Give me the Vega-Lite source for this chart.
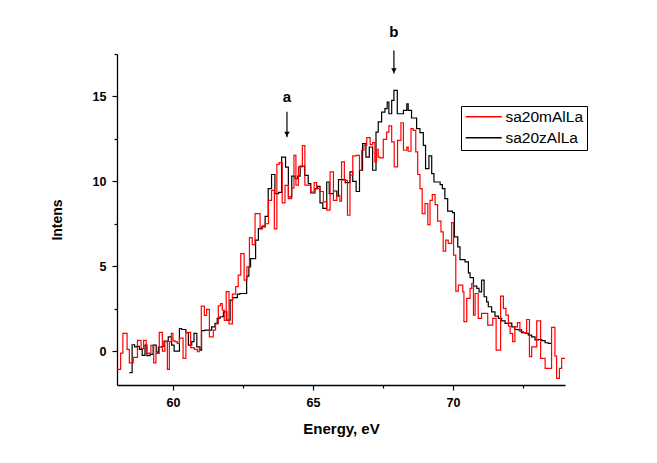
{
  "$schema": "https://vega.github.io/schema/vega-lite/v6.json",
  "description": "Step spectra of two samples with peak markers a and b.",
  "width": 448,
  "height": 331,
  "autosize": "none",
  "padding": {"left": 117, "top": 54, "right": 92, "bottom": 78},
  "datasets": {
    "spectra": [
      {"energy": 58.0, "intensity": -1.08, "sample": "sa20mAlLa"},
      {"energy": 58.13, "intensity": -0.12, "sample": "sa20mAlLa"},
      {"energy": 58.21, "intensity": 1.04, "sample": "sa20mAlLa"},
      {"energy": 58.36, "intensity": 0.1, "sample": "sa20mAlLa"},
      {"energy": 58.44, "intensity": -0.7, "sample": "sa20mAlLa"},
      {"energy": 58.58, "intensity": -0.37, "sample": "sa20mAlLa"},
      {"energy": 58.73, "intensity": 0.63, "sample": "sa20mAlLa"},
      {"energy": 58.86, "intensity": 0.14, "sample": "sa20mAlLa"},
      {"energy": 58.95, "intensity": 0.63, "sample": "sa20mAlLa"},
      {"energy": 59.04, "intensity": -0.14, "sample": "sa20mAlLa"},
      {"energy": 59.14, "intensity": -0.12, "sample": "sa20mAlLa"},
      {"energy": 59.21, "intensity": 0.33, "sample": "sa20mAlLa"},
      {"energy": 59.31, "intensity": -0.7, "sample": "sa20mAlLa"},
      {"energy": 59.39, "intensity": -0.14, "sample": "sa20mAlLa"},
      {"energy": 59.51, "intensity": 1.1, "sample": "sa20mAlLa"},
      {"energy": 59.62, "intensity": 0.0, "sample": "sa20mAlLa"},
      {"energy": 59.71, "intensity": 0.55, "sample": "sa20mAlLa"},
      {"energy": 59.8, "intensity": -1.08, "sample": "sa20mAlLa"},
      {"energy": 59.87, "intensity": 0.55, "sample": "sa20mAlLa"},
      {"energy": 59.94, "intensity": 1.04, "sample": "sa20mAlLa"},
      {"energy": 60.0, "intensity": 0.6, "sample": "sa20mAlLa"},
      {"energy": 60.07, "intensity": 0.55, "sample": "sa20mAlLa"},
      {"energy": 60.15, "intensity": 0.45, "sample": "sa20mAlLa"},
      {"energy": 60.23, "intensity": 0.76, "sample": "sa20mAlLa"},
      {"energy": 60.36, "intensity": -0.43, "sample": "sa20mAlLa"},
      {"energy": 60.46, "intensity": 1.1, "sample": "sa20mAlLa"},
      {"energy": 60.63, "intensity": 0.2, "sample": "sa20mAlLa"},
      {"energy": 60.76, "intensity": 0.1, "sample": "sa20mAlLa"},
      {"energy": 60.87, "intensity": -0.04, "sample": "sa20mAlLa"},
      {"energy": 60.94, "intensity": 0.2, "sample": "sa20mAlLa"},
      {"energy": 61.01, "intensity": 2.65, "sample": "sa20mAlLa"},
      {"energy": 61.12, "intensity": 2.1, "sample": "sa20mAlLa"},
      {"energy": 61.2, "intensity": 2.45, "sample": "sa20mAlLa"},
      {"energy": 61.3, "intensity": 0.84, "sample": "sa20mAlLa"},
      {"energy": 61.44, "intensity": 1.23, "sample": "sa20mAlLa"},
      {"energy": 61.52, "intensity": 1.6, "sample": "sa20mAlLa"},
      {"energy": 61.62, "intensity": 2.67, "sample": "sa20mAlLa"},
      {"energy": 61.7, "intensity": 2.8, "sample": "sa20mAlLa"},
      {"energy": 61.76, "intensity": 2.41, "sample": "sa20mAlLa"},
      {"energy": 61.83, "intensity": 1.8, "sample": "sa20mAlLa"},
      {"energy": 61.9, "intensity": 3.5, "sample": "sa20mAlLa"},
      {"energy": 62.0, "intensity": 1.6, "sample": "sa20mAlLa"},
      {"energy": 62.12, "intensity": 3.35, "sample": "sa20mAlLa"},
      {"energy": 62.24, "intensity": 3.8, "sample": "sa20mAlLa"},
      {"energy": 62.33, "intensity": 4.47, "sample": "sa20mAlLa"},
      {"energy": 62.42, "intensity": 5.74, "sample": "sa20mAlLa"},
      {"energy": 62.54, "intensity": 4.18, "sample": "sa20mAlLa"},
      {"energy": 62.64, "intensity": 4.96, "sample": "sa20mAlLa"},
      {"energy": 62.73, "intensity": 6.68, "sample": "sa20mAlLa"},
      {"energy": 62.83, "intensity": 6.27, "sample": "sa20mAlLa"},
      {"energy": 62.93, "intensity": 8.1, "sample": "sa20mAlLa"},
      {"energy": 63.11, "intensity": 7.2, "sample": "sa20mAlLa"},
      {"energy": 63.19, "intensity": 7.37, "sample": "sa20mAlLa"},
      {"energy": 63.29, "intensity": 7.5, "sample": "sa20mAlLa"},
      {"energy": 63.41, "intensity": 8.88, "sample": "sa20mAlLa"},
      {"energy": 63.52, "intensity": 9.47, "sample": "sa20mAlLa"},
      {"energy": 63.62, "intensity": 7.2, "sample": "sa20mAlLa"},
      {"energy": 63.71, "intensity": 11.0, "sample": "sa20mAlLa"},
      {"energy": 63.79, "intensity": 11.1, "sample": "sa20mAlLa"},
      {"energy": 63.9, "intensity": 8.73, "sample": "sa20mAlLa"},
      {"energy": 64.0, "intensity": 9.76, "sample": "sa20mAlLa"},
      {"energy": 64.12, "intensity": 8.98, "sample": "sa20mAlLa"},
      {"energy": 64.24, "intensity": 9.6, "sample": "sa20mAlLa"},
      {"energy": 64.32, "intensity": 11.53, "sample": "sa20mAlLa"},
      {"energy": 64.39, "intensity": 9.77, "sample": "sa20mAlLa"},
      {"energy": 64.48, "intensity": 10.85, "sample": "sa20mAlLa"},
      {"energy": 64.62, "intensity": 12.1, "sample": "sa20mAlLa"},
      {"energy": 64.71, "intensity": 9.77, "sample": "sa20mAlLa"},
      {"energy": 64.83, "intensity": 9.77, "sample": "sa20mAlLa"},
      {"energy": 64.92, "intensity": 9.37, "sample": "sa20mAlLa"},
      {"energy": 65.04, "intensity": 9.92, "sample": "sa20mAlLa"},
      {"energy": 65.13, "intensity": 9.57, "sample": "sa20mAlLa"},
      {"energy": 65.25, "intensity": 9.4, "sample": "sa20mAlLa"},
      {"energy": 65.37, "intensity": 8.79, "sample": "sa20mAlLa"},
      {"energy": 65.49, "intensity": 8.3, "sample": "sa20mAlLa"},
      {"energy": 65.61, "intensity": 10.55, "sample": "sa20mAlLa"},
      {"energy": 65.73, "intensity": 8.88, "sample": "sa20mAlLa"},
      {"energy": 65.85, "intensity": 9.18, "sample": "sa20mAlLa"},
      {"energy": 65.96, "intensity": 8.83, "sample": "sa20mAlLa"},
      {"energy": 66.02, "intensity": 11.14, "sample": "sa20mAlLa"},
      {"energy": 66.12, "intensity": 10.06, "sample": "sa20mAlLa"},
      {"energy": 66.23, "intensity": 8.0, "sample": "sa20mAlLa"},
      {"energy": 66.32, "intensity": 10.36, "sample": "sa20mAlLa"},
      {"energy": 66.42, "intensity": 11.5, "sample": "sa20mAlLa"},
      {"energy": 66.54, "intensity": 11.53, "sample": "sa20mAlLa"},
      {"energy": 66.66, "intensity": 10.65, "sample": "sa20mAlLa"},
      {"energy": 66.74, "intensity": 11.83, "sample": "sa20mAlLa"},
      {"energy": 66.82, "intensity": 12.12, "sample": "sa20mAlLa"},
      {"energy": 66.92, "intensity": 12.57, "sample": "sa20mAlLa"},
      {"energy": 67.04, "intensity": 12.16, "sample": "sa20mAlLa"},
      {"energy": 67.13, "intensity": 12.28, "sample": "sa20mAlLa"},
      {"energy": 67.21, "intensity": 11.14, "sample": "sa20mAlLa"},
      {"energy": 67.27, "intensity": 11.89, "sample": "sa20mAlLa"},
      {"energy": 67.33, "intensity": 11.43, "sample": "sa20mAlLa"},
      {"energy": 67.39, "intensity": 11.38, "sample": "sa20mAlLa"},
      {"energy": 67.51, "intensity": 12.47, "sample": "sa20mAlLa"},
      {"energy": 67.63, "intensity": 12.9, "sample": "sa20mAlLa"},
      {"energy": 67.71, "intensity": 13.26, "sample": "sa20mAlLa"},
      {"energy": 67.81, "intensity": 12.32, "sample": "sa20mAlLa"},
      {"energy": 67.9, "intensity": 10.85, "sample": "sa20mAlLa"},
      {"energy": 68.02, "intensity": 12.41, "sample": "sa20mAlLa"},
      {"energy": 68.14, "intensity": 13.45, "sample": "sa20mAlLa"},
      {"energy": 68.23, "intensity": 11.83, "sample": "sa20mAlLa"},
      {"energy": 68.35, "intensity": 12.02, "sample": "sa20mAlLa"},
      {"energy": 68.4, "intensity": 11.77, "sample": "sa20mAlLa"},
      {"energy": 68.5, "intensity": 13.1, "sample": "sa20mAlLa"},
      {"energy": 68.58, "intensity": 13.0, "sample": "sa20mAlLa"},
      {"energy": 68.67, "intensity": 11.73, "sample": "sa20mAlLa"},
      {"energy": 68.74, "intensity": 10.4, "sample": "sa20mAlLa"},
      {"energy": 68.82, "intensity": 9.57, "sample": "sa20mAlLa"},
      {"energy": 68.9, "intensity": 8.1, "sample": "sa20mAlLa"},
      {"energy": 69.0, "intensity": 8.69, "sample": "sa20mAlLa"},
      {"energy": 69.1, "intensity": 7.45, "sample": "sa20mAlLa"},
      {"energy": 69.18, "intensity": 8.88, "sample": "sa20mAlLa"},
      {"energy": 69.26, "intensity": 9.22, "sample": "sa20mAlLa"},
      {"energy": 69.36, "intensity": 8.63, "sample": "sa20mAlLa"},
      {"energy": 69.45, "intensity": 7.65, "sample": "sa20mAlLa"},
      {"energy": 69.57, "intensity": 7.02, "sample": "sa20mAlLa"},
      {"energy": 69.65, "intensity": 5.89, "sample": "sa20mAlLa"},
      {"energy": 69.74, "intensity": 6.53, "sample": "sa20mAlLa"},
      {"energy": 69.83, "intensity": 6.34, "sample": "sa20mAlLa"},
      {"energy": 69.95, "intensity": 7.57, "sample": "sa20mAlLa"},
      {"energy": 70.02, "intensity": 5.65, "sample": "sa20mAlLa"},
      {"energy": 70.1, "intensity": 3.53, "sample": "sa20mAlLa"},
      {"energy": 70.19, "intensity": 3.89, "sample": "sa20mAlLa"},
      {"energy": 70.25, "intensity": 3.88, "sample": "sa20mAlLa"},
      {"energy": 70.35, "intensity": 3.49, "sample": "sa20mAlLa"},
      {"energy": 70.39, "intensity": 1.73, "sample": "sa20mAlLa"},
      {"energy": 70.49, "intensity": 3.1, "sample": "sa20mAlLa"},
      {"energy": 70.61, "intensity": 3.69, "sample": "sa20mAlLa"},
      {"energy": 70.67, "intensity": 3.98, "sample": "sa20mAlLa"},
      {"energy": 70.73, "intensity": 2.12, "sample": "sa20mAlLa"},
      {"energy": 70.79, "intensity": 3.39, "sample": "sa20mAlLa"},
      {"energy": 70.9, "intensity": 1.92, "sample": "sa20mAlLa"},
      {"energy": 71.02, "intensity": 2.22, "sample": "sa20mAlLa"},
      {"energy": 71.14, "intensity": 2.22, "sample": "sa20mAlLa"},
      {"energy": 71.24, "intensity": 1.53, "sample": "sa20mAlLa"},
      {"energy": 71.42, "intensity": 1.92, "sample": "sa20mAlLa"},
      {"energy": 71.54, "intensity": 0.06, "sample": "sa20mAlLa"},
      {"energy": 71.7, "intensity": 3.24, "sample": "sa20mAlLa"},
      {"energy": 71.8, "intensity": 2.51, "sample": "sa20mAlLa"},
      {"energy": 71.89, "intensity": 2.12, "sample": "sa20mAlLa"},
      {"energy": 71.98, "intensity": 1.47, "sample": "sa20mAlLa"},
      {"energy": 72.04, "intensity": 1.04, "sample": "sa20mAlLa"},
      {"energy": 72.13, "intensity": 0.55, "sample": "sa20mAlLa"},
      {"energy": 72.21, "intensity": 1.43, "sample": "sa20mAlLa"},
      {"energy": 72.3, "intensity": 1.67, "sample": "sa20mAlLa"},
      {"energy": 72.39, "intensity": 1.14, "sample": "sa20mAlLa"},
      {"energy": 72.51, "intensity": 1.08, "sample": "sa20mAlLa"},
      {"energy": 72.63, "intensity": 1.86, "sample": "sa20mAlLa"},
      {"energy": 72.73, "intensity": -0.33, "sample": "sa20mAlLa"},
      {"energy": 72.81, "intensity": 0.25, "sample": "sa20mAlLa"},
      {"energy": 72.99, "intensity": 1.78, "sample": "sa20mAlLa"},
      {"energy": 73.13, "intensity": -0.43, "sample": "sa20mAlLa"},
      {"energy": 73.29, "intensity": -1.02, "sample": "sa20mAlLa"},
      {"energy": 73.52, "intensity": 1.39, "sample": "sa20mAlLa"},
      {"energy": 73.64, "intensity": -0.3, "sample": "sa20mAlLa"},
      {"energy": 73.7, "intensity": -1.61, "sample": "sa20mAlLa"},
      {"energy": 73.8, "intensity": -1.02, "sample": "sa20mAlLa"},
      {"energy": 73.88, "intensity": -0.43, "sample": "sa20mAlLa"},
      {"energy": 74.0, "intensity": -0.43, "sample": "sa20mAlLa"},
      {"energy": 58.44, "intensity": -1.27, "sample": "sa20zAlLa"},
      {"energy": 58.54, "intensity": 0.37, "sample": "sa20zAlLa"},
      {"energy": 58.63, "intensity": 0.25, "sample": "sa20zAlLa"},
      {"energy": 58.71, "intensity": 0.28, "sample": "sa20zAlLa"},
      {"energy": 58.8, "intensity": 0.1, "sample": "sa20zAlLa"},
      {"energy": 58.9, "intensity": -0.25, "sample": "sa20zAlLa"},
      {"energy": 59.0, "intensity": 0.35, "sample": "sa20zAlLa"},
      {"energy": 59.07, "intensity": -0.27, "sample": "sa20zAlLa"},
      {"energy": 59.18, "intensity": -0.2, "sample": "sa20zAlLa"},
      {"energy": 59.29, "intensity": 0.35, "sample": "sa20zAlLa"},
      {"energy": 59.4, "intensity": -0.06, "sample": "sa20zAlLa"},
      {"energy": 59.48, "intensity": 0.24, "sample": "sa20zAlLa"},
      {"energy": 59.62, "intensity": 0.27, "sample": "sa20zAlLa"},
      {"energy": 59.68, "intensity": 0.59, "sample": "sa20zAlLa"},
      {"energy": 59.83, "intensity": 0.84, "sample": "sa20zAlLa"},
      {"energy": 59.95, "intensity": 0.35, "sample": "sa20zAlLa"},
      {"energy": 60.04, "intensity": 0.0, "sample": "sa20zAlLa"},
      {"energy": 60.23, "intensity": 1.33, "sample": "sa20zAlLa"},
      {"energy": 60.31, "intensity": 1.27, "sample": "sa20zAlLa"},
      {"energy": 60.46, "intensity": 1.08, "sample": "sa20zAlLa"},
      {"energy": 60.55, "intensity": 0.35, "sample": "sa20zAlLa"},
      {"energy": 60.67, "intensity": 0.55, "sample": "sa20zAlLa"},
      {"energy": 60.75, "intensity": 1.04, "sample": "sa20zAlLa"},
      {"energy": 60.85, "intensity": 0.25, "sample": "sa20zAlLa"},
      {"energy": 60.96, "intensity": 0.06, "sample": "sa20zAlLa"},
      {"energy": 61.02, "intensity": 1.2, "sample": "sa20zAlLa"},
      {"energy": 61.14, "intensity": 1.23, "sample": "sa20zAlLa"},
      {"energy": 61.38, "intensity": 1.43, "sample": "sa20zAlLa"},
      {"energy": 61.5, "intensity": 1.63, "sample": "sa20zAlLa"},
      {"energy": 61.58, "intensity": 1.92, "sample": "sa20zAlLa"},
      {"energy": 61.68, "intensity": 2.02, "sample": "sa20zAlLa"},
      {"energy": 61.8, "intensity": 2.31, "sample": "sa20zAlLa"},
      {"energy": 61.92, "intensity": 1.82, "sample": "sa20zAlLa"},
      {"energy": 62.04, "intensity": 3.0, "sample": "sa20zAlLa"},
      {"energy": 62.13, "intensity": 3.15, "sample": "sa20zAlLa"},
      {"energy": 62.3, "intensity": 3.35, "sample": "sa20zAlLa"},
      {"energy": 62.39, "intensity": 3.39, "sample": "sa20zAlLa"},
      {"energy": 62.63, "intensity": 4.41, "sample": "sa20zAlLa"},
      {"energy": 62.71, "intensity": 4.96, "sample": "sa20zAlLa"},
      {"energy": 62.77, "intensity": 5.45, "sample": "sa20zAlLa"},
      {"energy": 62.95, "intensity": 6.53, "sample": "sa20zAlLa"},
      {"energy": 63.05, "intensity": 7.21, "sample": "sa20zAlLa"},
      {"energy": 63.17, "intensity": 7.31, "sample": "sa20zAlLa"},
      {"energy": 63.29, "intensity": 7.94, "sample": "sa20zAlLa"},
      {"energy": 63.4, "intensity": 9.57, "sample": "sa20zAlLa"},
      {"energy": 63.52, "intensity": 10.4, "sample": "sa20zAlLa"},
      {"energy": 63.64, "intensity": 9.27, "sample": "sa20zAlLa"},
      {"energy": 63.77, "intensity": 9.35, "sample": "sa20zAlLa"},
      {"energy": 63.88, "intensity": 11.43, "sample": "sa20zAlLa"},
      {"energy": 64.02, "intensity": 10.84, "sample": "sa20zAlLa"},
      {"energy": 64.12, "intensity": 9.08, "sample": "sa20zAlLa"},
      {"energy": 64.24, "intensity": 10.3, "sample": "sa20zAlLa"},
      {"energy": 64.36, "intensity": 10.15, "sample": "sa20zAlLa"},
      {"energy": 64.45, "intensity": 10.3, "sample": "sa20zAlLa"},
      {"energy": 64.54, "intensity": 10.9, "sample": "sa20zAlLa"},
      {"energy": 64.7, "intensity": 10.35, "sample": "sa20zAlLa"},
      {"energy": 64.83, "intensity": 9.86, "sample": "sa20zAlLa"},
      {"energy": 64.92, "intensity": 9.31, "sample": "sa20zAlLa"},
      {"energy": 65.07, "intensity": 9.57, "sample": "sa20zAlLa"},
      {"energy": 65.16, "intensity": 9.7, "sample": "sa20zAlLa"},
      {"energy": 65.25, "intensity": 8.73, "sample": "sa20zAlLa"},
      {"energy": 65.35, "intensity": 8.4, "sample": "sa20zAlLa"},
      {"energy": 65.49, "intensity": 9.96, "sample": "sa20zAlLa"},
      {"energy": 65.58, "intensity": 9.27, "sample": "sa20zAlLa"},
      {"energy": 65.73, "intensity": 9.43, "sample": "sa20zAlLa"},
      {"energy": 65.85, "intensity": 9.12, "sample": "sa20zAlLa"},
      {"energy": 65.91, "intensity": 10.1, "sample": "sa20zAlLa"},
      {"energy": 66.03, "intensity": 10.1, "sample": "sa20zAlLa"},
      {"energy": 66.15, "intensity": 9.92, "sample": "sa20zAlLa"},
      {"energy": 66.32, "intensity": 10.55, "sample": "sa20zAlLa"},
      {"energy": 66.42, "intensity": 10.0, "sample": "sa20zAlLa"},
      {"energy": 66.54, "intensity": 9.4, "sample": "sa20zAlLa"},
      {"energy": 66.66, "intensity": 10.65, "sample": "sa20zAlLa"},
      {"energy": 66.77, "intensity": 12.22, "sample": "sa20zAlLa"},
      {"energy": 66.89, "intensity": 11.43, "sample": "sa20zAlLa"},
      {"energy": 67.01, "intensity": 12.02, "sample": "sa20zAlLa"},
      {"energy": 67.13, "intensity": 10.65, "sample": "sa20zAlLa"},
      {"energy": 67.25, "intensity": 12.9, "sample": "sa20zAlLa"},
      {"energy": 67.33, "intensity": 13.5, "sample": "sa20zAlLa"},
      {"energy": 67.45, "intensity": 14.08, "sample": "sa20zAlLa"},
      {"energy": 67.57, "intensity": 14.28, "sample": "sa20zAlLa"},
      {"energy": 67.65, "intensity": 14.67, "sample": "sa20zAlLa"},
      {"energy": 67.71, "intensity": 13.98, "sample": "sa20zAlLa"},
      {"energy": 67.81, "intensity": 14.77, "sample": "sa20zAlLa"},
      {"energy": 67.89, "intensity": 15.36, "sample": "sa20zAlLa"},
      {"energy": 68.01, "intensity": 13.98, "sample": "sa20zAlLa"},
      {"energy": 68.23, "intensity": 14.18, "sample": "sa20zAlLa"},
      {"energy": 68.35, "intensity": 14.57, "sample": "sa20zAlLa"},
      {"energy": 68.4, "intensity": 14.18, "sample": "sa20zAlLa"},
      {"energy": 68.52, "intensity": 13.73, "sample": "sa20zAlLa"},
      {"energy": 68.7, "intensity": 13.1, "sample": "sa20zAlLa"},
      {"energy": 68.82, "intensity": 12.87, "sample": "sa20zAlLa"},
      {"energy": 68.94, "intensity": 12.12, "sample": "sa20zAlLa"},
      {"energy": 69.02, "intensity": 10.75, "sample": "sa20zAlLa"},
      {"energy": 69.14, "intensity": 11.5, "sample": "sa20zAlLa"},
      {"energy": 69.24, "intensity": 10.45, "sample": "sa20zAlLa"},
      {"energy": 69.32, "intensity": 9.96, "sample": "sa20zAlLa"},
      {"energy": 69.54, "intensity": 9.81, "sample": "sa20zAlLa"},
      {"energy": 69.62, "intensity": 9.57, "sample": "sa20zAlLa"},
      {"energy": 69.71, "intensity": 8.98, "sample": "sa20zAlLa"},
      {"energy": 69.81, "intensity": 8.24, "sample": "sa20zAlLa"},
      {"energy": 69.98, "intensity": 8.16, "sample": "sa20zAlLa"},
      {"energy": 70.05, "intensity": 6.73, "sample": "sa20zAlLa"},
      {"energy": 70.17, "intensity": 6.14, "sample": "sa20zAlLa"},
      {"energy": 70.25, "intensity": 5.39, "sample": "sa20zAlLa"},
      {"energy": 70.43, "intensity": 5.25, "sample": "sa20zAlLa"},
      {"energy": 70.55, "intensity": 4.61, "sample": "sa20zAlLa"},
      {"energy": 70.61, "intensity": 4.33, "sample": "sa20zAlLa"},
      {"energy": 70.73, "intensity": 3.82, "sample": "sa20zAlLa"},
      {"energy": 70.85, "intensity": 3.69, "sample": "sa20zAlLa"},
      {"energy": 70.93, "intensity": 3.49, "sample": "sa20zAlLa"},
      {"energy": 71.02, "intensity": 4.18, "sample": "sa20zAlLa"},
      {"energy": 71.11, "intensity": 3.2, "sample": "sa20zAlLa"},
      {"energy": 71.2, "intensity": 2.9, "sample": "sa20zAlLa"},
      {"energy": 71.26, "intensity": 2.61, "sample": "sa20zAlLa"},
      {"energy": 71.38, "intensity": 2.31, "sample": "sa20zAlLa"},
      {"energy": 71.5, "intensity": 2.06, "sample": "sa20zAlLa"},
      {"energy": 71.62, "intensity": 1.92, "sample": "sa20zAlLa"},
      {"energy": 71.74, "intensity": 1.78, "sample": "sa20zAlLa"},
      {"energy": 71.86, "intensity": 1.63, "sample": "sa20zAlLa"},
      {"energy": 71.98, "intensity": 1.65, "sample": "sa20zAlLa"},
      {"energy": 72.1, "intensity": 1.43, "sample": "sa20zAlLa"},
      {"energy": 72.21, "intensity": 1.27, "sample": "sa20zAlLa"},
      {"energy": 72.33, "intensity": 1.25, "sample": "sa20zAlLa"},
      {"energy": 72.45, "intensity": 1.08, "sample": "sa20zAlLa"},
      {"energy": 72.57, "intensity": 1.05, "sample": "sa20zAlLa"},
      {"energy": 72.69, "intensity": 0.94, "sample": "sa20zAlLa"},
      {"energy": 72.81, "intensity": 0.84, "sample": "sa20zAlLa"},
      {"energy": 72.93, "intensity": 0.65, "sample": "sa20zAlLa"},
      {"energy": 73.05, "intensity": 0.68, "sample": "sa20zAlLa"},
      {"energy": 73.17, "intensity": 0.61, "sample": "sa20zAlLa"},
      {"energy": 73.29, "intensity": 0.49, "sample": "sa20zAlLa"},
      {"energy": 73.4, "intensity": 0.45, "sample": "sa20zAlLa"},
      {"energy": 73.49, "intensity": 0.41, "sample": "sa20zAlLa"}
    ],
    "peaks": [
      {"label": "a", "energy": 64.07, "textY": 14.95, "arrowTop": 14.1, "arrowTip": 12.6},
      {"label": "b", "energy": 67.89, "textY": 18.8, "arrowTop": 17.7, "arrowTip": 16.35}
    ]
  },
  "layer": [
    {
      "data": {"name": "spectra"},
      "transform": [{"filter": "datum.sample === 'sa20zAlLa'"}],
      "mark": {"type": "line", "interpolate": "step-after", "strokeWidth": 1.2},
      "encoding": {
        "x": {
          "field": "energy",
          "type": "quantitative",
          "scale": {"domain": [58, 74], "nice": false, "zero": false},
          "axis": {
            "title": "Energy, eV",
            "values": [60, 62.5, 65, 67.5, 70, 72.5],
            "labelExpr": "datum.value % 5 === 0 ? format(datum.value, 'd') : ''",
            "tickSize": {"condition": {"test": "datum.value % 5 !== 0", "value": 3}, "value": 5},
            "labelPadding": 6,
            "titleFontSize": 15,
            "titlePadding": 13
          }
        },
        "y": {
          "field": "intensity",
          "type": "quantitative",
          "scale": {"domain": [-2, 17.5], "nice": false, "zero": false},
          "axis": {
            "title": "Intens",
            "values": [0, 2.5, 5, 7.5, 10, 12.5, 15, 17.5],
            "labelExpr": "datum.value % 5 === 0 ? format(datum.value, 'd') : ''",
            "tickSize": {"condition": {"test": "datum.value % 5 !== 0", "value": 3}, "value": 5},
            "labelPadding": 6,
            "titleFontSize": 14,
            "titleX": -53
          }
        },
        "color": {
          "field": "sample",
          "type": "nominal",
          "scale": {"domain": ["sa20mAlLa", "sa20zAlLa"], "range": ["#ff0000", "#000000"]},
          "legend": {
            "title": null,
            "orient": "none",
            "legendX": 344,
            "legendY": 52,
            "strokeColor": "#000000",
            "padding": 3,
            "symbolType": "M-1,0H5",
            "symbolSize": 144,
            "symbolStrokeWidth": 1.3,
            "labelFont": "Liberation Sans",
            "labelFontSize": 15.5,
            "labelColor": "#000000",
            "labelOffset": 26,
            "rowPadding": 4
          }
        }
      }
    },
    {
      "data": {"name": "spectra"},
      "transform": [{"filter": "datum.sample === 'sa20mAlLa'"}],
      "mark": {"type": "line", "interpolate": "step-after", "strokeWidth": 1.2},
      "encoding": {
        "x": {"field": "energy", "type": "quantitative"},
        "y": {"field": "intensity", "type": "quantitative"},
        "color": {"field": "sample", "type": "nominal"}
      }
    },
    {
      "data": {"name": "peaks"},
      "mark": {"type": "text", "font": "Liberation Sans", "fontWeight": "bold", "fontSize": 15, "baseline": "middle", "color": "#000000"},
      "encoding": {
        "x": {"field": "energy", "type": "quantitative"},
        "y": {"field": "textY", "type": "quantitative"},
        "text": {"field": "label"}
      }
    },
    {
      "data": {"name": "peaks"},
      "mark": {"type": "rule", "color": "#000000", "strokeWidth": 1.2},
      "encoding": {
        "x": {"field": "energy", "type": "quantitative"},
        "y": {"field": "arrowTop", "type": "quantitative"},
        "y2": {"field": "arrowTip"}
      }
    },
    {
      "data": {"name": "peaks"},
      "mark": {"type": "point", "shape": "triangle-down", "filled": true, "size": 30, "color": "#000000", "opacity": 1, "yOffset": -3},
      "encoding": {
        "x": {"field": "energy", "type": "quantitative"},
        "y": {"field": "arrowTip", "type": "quantitative"}
      }
    }
  ],
  "config": {
    "view": {"stroke": null},
    "font": "Liberation Sans",
    "axis": {
      "grid": false,
      "domainColor": "#000000",
      "domainWidth": 1.3,
      "tickColor": "#000000",
      "tickWidth": 1.2,
      "labelFont": "Liberation Sans",
      "labelFontWeight": "bold",
      "labelFontSize": 12.5,
      "labelColor": "#000000",
      "titleFont": "Liberation Sans",
      "titleColor": "#000000",
      "titleFontWeight": "bold"
    }
  }
}
